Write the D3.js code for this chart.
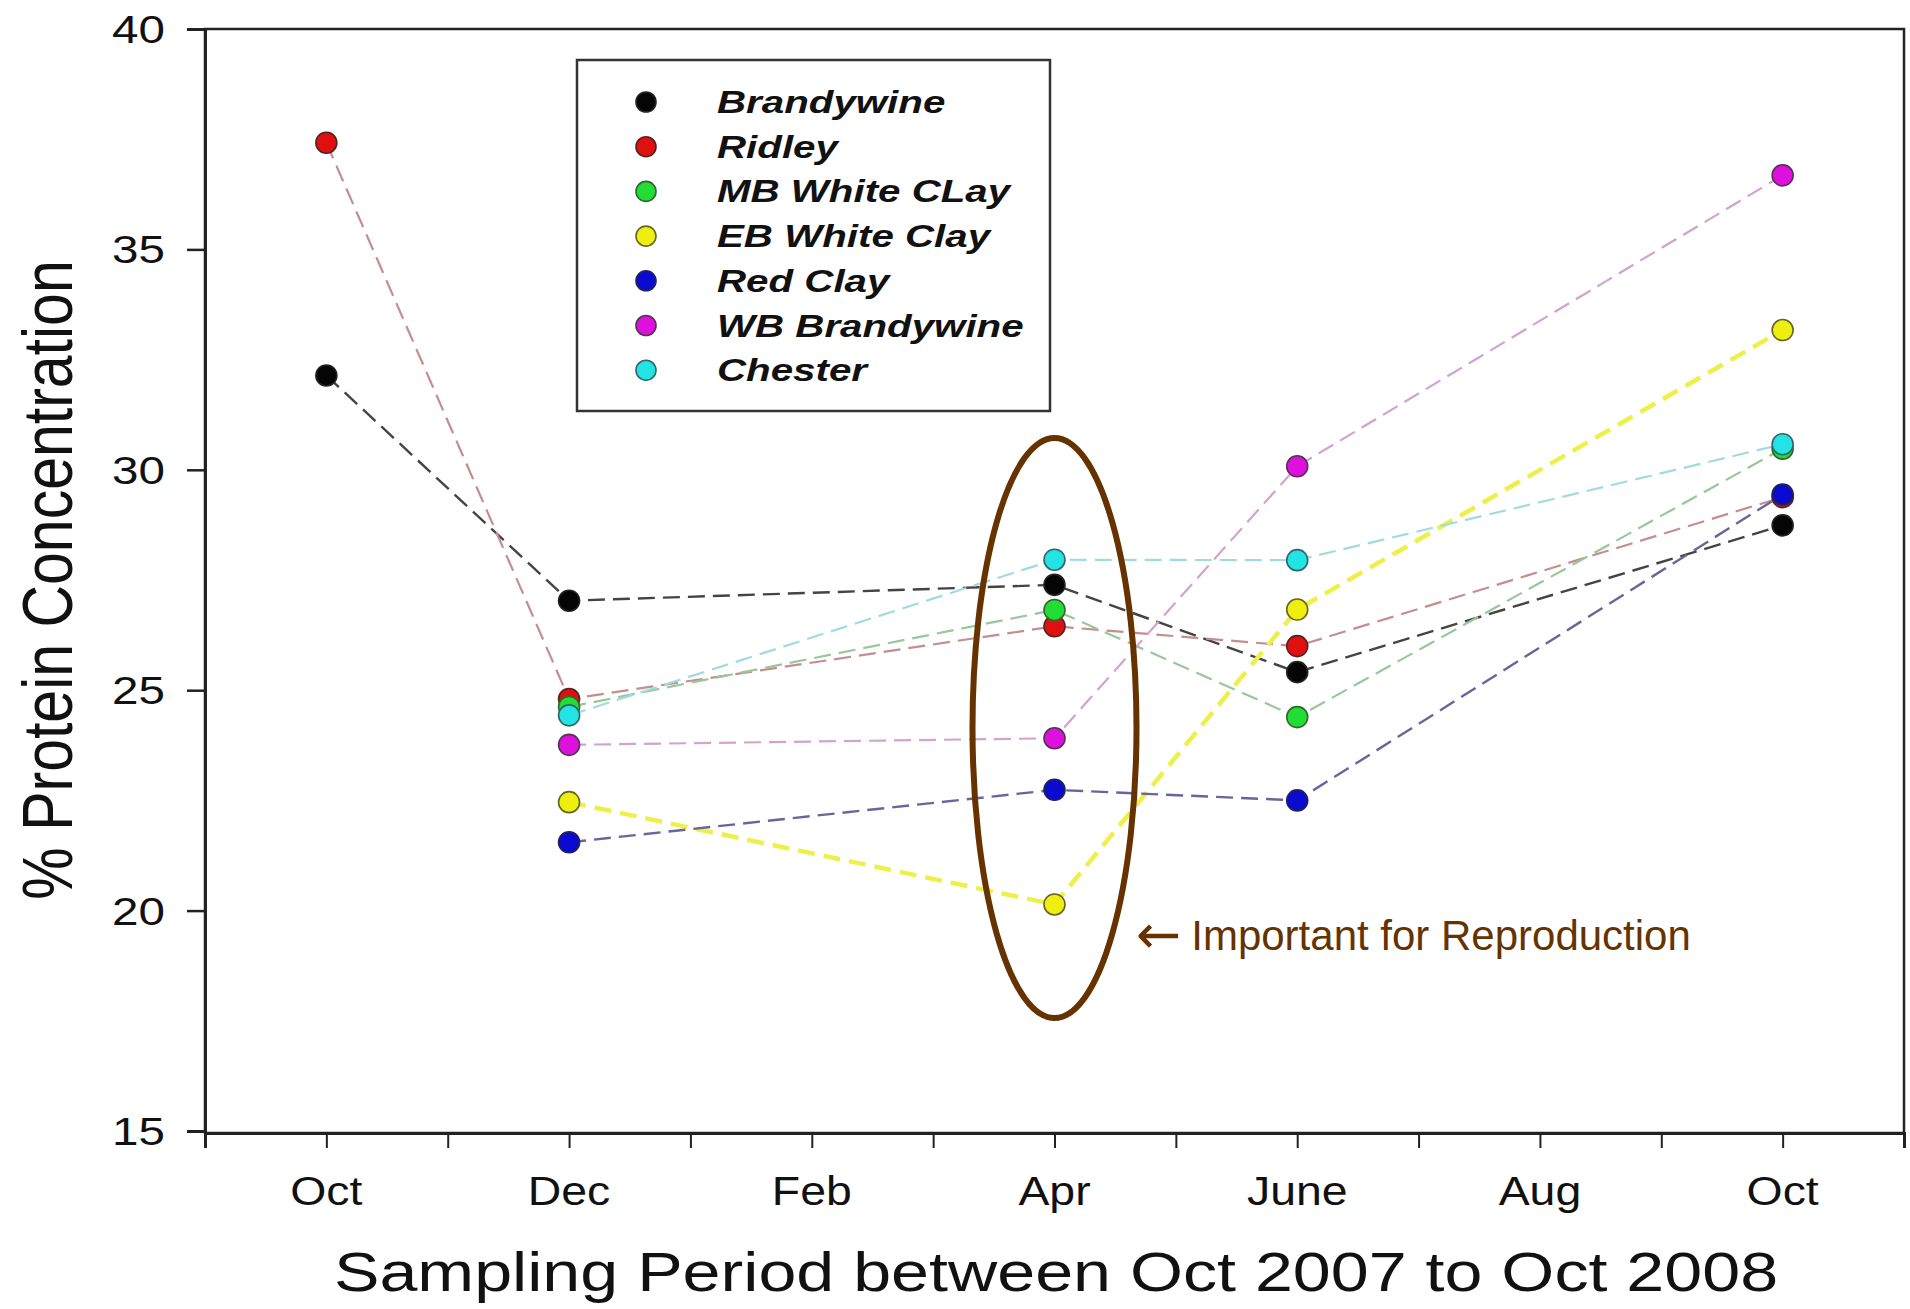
<!DOCTYPE html>
<html>
<head>
<meta charset="utf-8">
<script src="https://cdn.jsdelivr.net/npm/d3@7"></script>
<style>
  html, body { margin: 0; padding: 0; background: #fff; }
  svg { display: block; }
  text { font-family: "Liberation Sans", Arial, Helvetica, sans-serif; fill: #111; }
</style>
</head>
<body>
<svg id="chart" width="1910" height="1309"></svg>
<script>
// Month axis runs from Sep 2007 (0) to Nov 2008 (14); every month gets a tick
const monthTickLabels = ["", "Oct", "", "Dec", "", "Feb", "", "Apr", "", "June", "", "Aug", "", "Oct", ""];
// Sampling dates as month offsets: Oct 07, Dec 07, Apr 08, June 08, Oct 08
const sampleMonths = [1, 3, 7, 9, 13];
const yTickValues = [15, 20, 25, 30, 35, 40];

const siteNames = ["Brandywine", "Ridley", "MB White CLay", "EB White Clay", "Red Clay", "WB Brandywine", "Chester"];
const brandywine   = [32.14, 27.03, 27.39, 25.41, 28.74];
const ridley       = [37.42, 24.80, 26.45, 26.00, 29.38];
const mbWhiteClay  = [null, 24.62, 26.82, 24.39, 30.48];
const ebWhiteClay  = [null, 22.46, 20.14, 26.83, 33.17];
const redClay      = [null, 21.55, 22.74, 22.50, 29.44];
const wbBrandywine = [null, 23.76, 23.91, 30.08, 36.68];
const chester      = [null, 24.43, 27.96, 27.95, 30.58];
const seriesValues = [brandywine, ridley, mbWhiteClay, ebWhiteClay, redClay, wbBrandywine, chester];

const markerFill = ["#050505", "#e01010", "#22dd33", "#eeee10", "#0a0ad0", "#dd10dd", "#22e4e4"];
const markerEdge = ["#222", "#552222", "#336633", "#666622", "#222255", "#553355", "#336666"];
const lineColor  = ["#444444", "#c48e8e", "#98c898", "#eef04a", "#66669a", "#d2a2d2", "#a2dae2"];
const lineWidth  = [2.4, 2.2, 2.2, 4.5, 2.4, 2.2, 2.2];

const svg = d3.select("#chart");
const plot = { left: 205, right: 1904, top: 29, bottom: 1133 };

const x = d3.scaleLinear().domain([0, 14]).range([plot.left, plot.right]);
const y = d3.scaleLinear().domain([15, 40]).range([1131, plot.top]);

// stretched text helper
function label(g, str, px, py, opts) {
  const t = g.append("text")
    .attr("transform", `translate(${px},${py}) scale(${opts.sx || 1},1)` + (opts.rotate ? ` rotate(${opts.rotate})` : ""))
    .attr("text-anchor", opts.anchor || "start")
    .style("font-size", opts.size + "px")
    .text(str);
  if (opts.weight) t.style("font-weight", opts.weight);
  if (opts.italic) t.style("font-style", "italic");
  if (opts.fill) t.style("fill", opts.fill);
  return t;
}

// plot frame
svg.append("rect")
  .attr("x", plot.left).attr("y", plot.top)
  .attr("width", plot.right - plot.left).attr("height", plot.bottom - plot.top)
  .attr("fill", "none").attr("stroke", "#222").attr("stroke-width", 2.5);

// y axis ticks
const yAxis = d3.axisLeft(y).tickValues(yTickValues).tickSize(18).tickFormat("");
const gy = svg.append("g").attr("transform", `translate(${plot.left},0)`).call(yAxis);
gy.select(".domain").attr("stroke", "#222").attr("stroke-width", 3);
gy.selectAll(".tick line").attr("stroke", "#222").attr("stroke-width", 2.5);
yTickValues.forEach(v => label(svg, String(v), 165, y(v) + 14, { size: 39, sx: 1.22, anchor: "end" }));

// x axis ticks
const xAxis = d3.axisBottom(x).tickValues(d3.range(0, 15)).tickSize(15).tickFormat("");
const gx = svg.append("g").attr("transform", `translate(0,${plot.bottom})`).call(xAxis);
gx.select(".domain").attr("stroke", "#222").attr("stroke-width", 3);
gx.selectAll(".tick line").attr("stroke", "#222").attr("stroke-width", 2);
monthTickLabels.forEach((m, i) => {
  if (m) label(svg, m, x(i), 1205, { size: 40, sx: 1.16, anchor: "middle" });
});

// axis titles
label(svg, "Sampling Period between Oct 2007 to Oct 2008", 1056, 1291, { size: 55, sx: 1.24, anchor: "middle" });
label(svg, "% Protein Concentration", 72, 580, { size: 59, sx: 1.2, anchor: "middle", rotate: -90 });

// series lines
const line = d3.line()
  .defined(d => d.v !== null)
  .x(d => x(d.m))
  .y(d => y(d.v));

const seriesData = seriesValues.map(vals => vals.map((v, i) => ({ m: sampleMonths[i], v })));

svg.append("g").selectAll("path")
  .data(seriesData)
  .join("path")
  .attr("d", line)
  .attr("fill", "none")
  .attr("stroke", (d, i) => lineColor[i])
  .attr("stroke-width", (d, i) => lineWidth[i])
  .attr("stroke-dasharray", (d, i) => i === 3 ? "17,9" : "17,8");

// markers, later series on top
seriesData.forEach((pts, i) => {
  svg.append("g").selectAll("circle")
    .data(pts.filter(p => p.v !== null))
    .join("circle")
    .attr("cx", d => x(d.m))
    .attr("cy", d => y(d.v))
    .attr("r", 10.5)
    .attr("fill", markerFill[i])
    .attr("stroke", markerEdge[i])
    .attr("stroke-width", 1.6);
});

// legend
const legend = svg.append("g");
legend.append("rect")
  .attr("x", 577).attr("y", 60).attr("width", 473).attr("height", 351)
  .attr("fill", "#fff").attr("stroke", "#333").attr("stroke-width", 2.5);
siteNames.forEach((name, i) => {
  const cy = 102 + i * 44.7;
  legend.append("circle")
    .attr("cx", 646).attr("cy", cy).attr("r", 10)
    .attr("fill", markerFill[i]).attr("stroke", markerEdge[i]).attr("stroke-width", 1.6);
  label(legend, name, 717, cy + 11, { size: 31, sx: 1.3, weight: "bold", italic: true });
});

// highlight around the April sampling
svg.append("ellipse")
  .attr("cx", x(7)).attr("cy", 728)
  .attr("rx", 82).attr("ry", 290)
  .attr("fill", "none").attr("stroke", "#663300").attr("stroke-width", 6);

const note = svg.append("text")
  .attr("x", 1136).attr("y", 950)
  .style("font-size", "42px")
  .style("fill", "#663300");
note.append("tspan")
  .style("font-family", "'DejaVu Sans', sans-serif")
  .style("font-size", "54px")
  .attr("dy", 3)
  .text("\u2190");
note.append("tspan").attr("dx", 10).attr("dy", -3).text("Important for Reproduction");
</script>
</body>
</html>
